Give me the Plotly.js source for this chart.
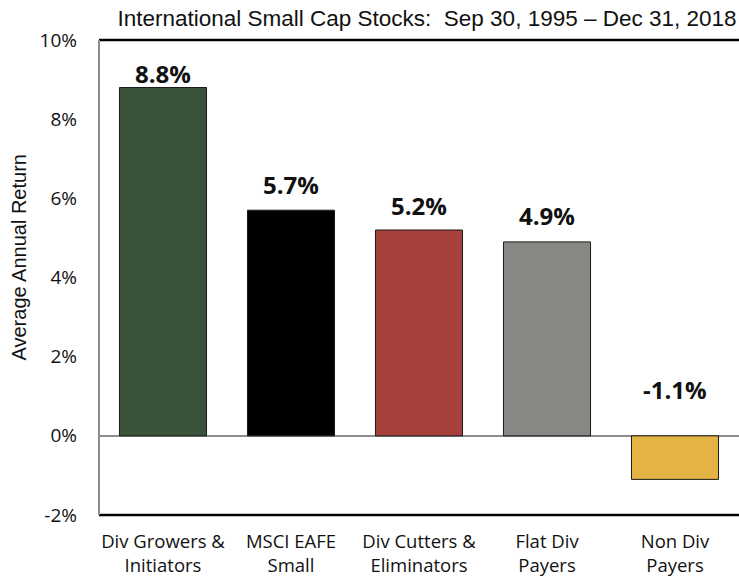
<!DOCTYPE html>
<html><head><meta charset="utf-8">
<script src="https://cdn.plot.ly/plotly-3.0.1.min.js"></script>
<style>body{margin:0;background:#fff}#chart{width:739px;height:581px}</style>
</head><body><div id="chart"></div>
<script>
const categories = ["Div Growers &<br>Initiators", "MSCI EAFE<br>Small", "Div Cutters &<br>Eliminators", "Flat Div<br>Payers", "Non Div<br>Payers"];
const values = [8.8, 5.7, 5.2, 4.9, -1.1];
const valueLabels = ["8.8%", "5.7%", "5.2%", "4.9%", "-1.1%"];
const colors = ["#3b523a", "#000000", "#a8403b", "#878783", "#e3b344"];
const tickVals = [-2, 0, 2, 4, 6, 8, 10];
const tickText = ["-2%", "0%", "2%", "4%", "6%", "8%", "10%"];
const labelShift = [14, 26, 25, 26, 46];

const trace = {
  type: "bar", x: categories, y: values,
  marker: {color: colors, line: {color: "#1a1a1a", width: 1}},
  width: 0.68, hoverinfo: "none", showlegend: false
};
const annotations = categories.map((c, i) => ({
  x: c, y: Math.max(values[i], 0), xref: "x", yref: "y",
  text: "<b>" + valueLabels[i] + "</b>", showarrow: false,
  yanchor: "middle", yshift: labelShift[i],
  font: {family: "'Open Sans', sans-serif", size: 24, color: "#111"}
}));
annotations.push({
  text: "Average Annual Return", textangle: -90, showarrow: false,
  xref: "paper", yref: "paper", x: -81/640, y: (515-257.5)/475,
  xanchor: "center", yanchor: "middle",
  font: {family: "'Liberation Sans', Arial, sans-serif", size: 20, color: "#111"}
});
const layout = {
  width: 739, height: 581,
  margin: {l: 99, r: 0, t: 40, b: 66},
  paper_bgcolor: "#fff", plot_bgcolor: "#fff",
  title: {text: "International Small Cap Stocks:  Sep 30, 1995 \u2013 Dec 31, 2018",
    font: {family: "'Liberation Sans', Arial, sans-serif", size: 22.5, color: "#111"},
    x: 427/739, xref: "container", xanchor: "center", y: 1 - 18/581, yref: "container", yanchor: "middle"},
  xaxis: {showgrid: false, showline: false, zeroline: false, ticks: "",
    ticklabelstandoff: 13,
    tickfont: {family: "'Open Sans', sans-serif", size: 18.5, color: "#111"},
    fixedrange: true},
  yaxis: {range: [-2, 10], tickvals: tickVals, ticktext: tickText,
    showgrid: false, showline: false, zeroline: true, zerolinecolor: "#8c8c8c", zerolinewidth: 2,
    ticks: "", ticklabelstandoff: 21, tickfont: {family: "'Open Sans', sans-serif", size: 19, color: "#111"},
    fixedrange: true},
  shapes: [
    {type: "line", xref: "paper", yref: "paper", x0: 0, x1: 1, y0: 1, y1: 1, line: {color: "#000", width: 2.5}},
    {type: "line", xref: "paper", yref: "paper", x0: 0, x1: 1, y0: 0, y1: 0, line: {color: "#000", width: 2.5}},
    {type: "line", xref: "paper", yref: "paper", x0: 0, x1: 0, y0: 0, y1: 1, line: {color: "#8c8c8c", width: 2}}
  ],
  annotations: annotations
};
Plotly.newPlot("chart", [trace], layout, {displayModeBar: false, staticPlot: true});
</script></body></html>
